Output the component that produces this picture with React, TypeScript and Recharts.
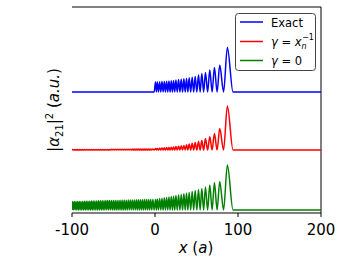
import React from "react";
import { LineChart, Line, XAxis, YAxis, ReferenceLine } from "recharts";

// Peak positions (x in units of a)
const peakX: number[] = [
  -99.2, -97.2, -95.2, -93.2, -91.2, -89.2, -87.1, -85.0, -82.9, -80.8, -78.7,
  -76.6, -74.5, -72.4, -70.2, -68.0, -65.8, -63.6, -61.4, -59.2, -57.0, -54.8,
  -52.5, -50.2, -47.9, -45.6, -43.3, -41.0, -38.7, -36.4, -34.0, -31.6, -29.2,
  -26.8, -24.4, -22.0, -19.6, -17.2, -14.8, -12.4, -10.0, -7.6, -5.2, -2.6,
  0.6, 2.8, 5.6, 8.4, 11.2, 14.0, 16.8, 19.6, 22.4, 25.2, 28.4, 31.6, 34.8,
  38.0, 41.2, 44.8, 48.4, 52.4, 56.4, 60.8, 66.0, 71.6, 78.0, 87.2,
];

// Peak heights (a.u.) for each curve
const exactPeaks: number[] = [
  0, 0, 0, 0, 0, 0, 0, 0, 0, 0, 0, 0, 0, 0, 0, 0, 0, 0, 0, 0, 0, 0,
  0, 0, 0, 0, 0, 0, 0, 0, 0, 0, 0, 0, 0, 0, 0, 0, 0, 0, 0, 0, 0, 0,
  0.5, 0.5, 0.5, 0.52, 0.53, 0.54, 0.55, 0.56, 0.58, 0.6, 0.62, 0.64, 0.66,
  0.68, 0.71, 0.74, 0.78, 0.85, 0.93, 0.98, 1.1, 1.23, 1.35, 2.23,
];
const approxPeaks: number[] = [
  0.02, 0.02, 0.02, 0.02, 0.02, 0.02, 0.02, 0.02, 0.02, 0.02, 0.02,
  0.03, 0.03, 0.03, 0.03, 0.03, 0.03, 0.03, 0.03, 0.03, 0.03, 0.03,
  0.04, 0.04, 0.04, 0.04, 0.04, 0.04, 0.04, 0.04, 0.04, 0.04, 0.04,
  0.05, 0.05, 0.05, 0.05, 0.05, 0.05, 0.05, 0.05, 0.05, 0.05, 0.05,
  0.07, 0.08, 0.09, 0.1, 0.11, 0.12, 0.13, 0.14, 0.15, 0.17, 0.19, 0.21,
  0.23, 0.26, 0.3, 0.34, 0.37, 0.42, 0.47, 0.57, 0.66, 0.82, 1.07, 2.2,
];
const zeroPeaks: number[] = [
  0.42, 0.42, 0.42, 0.43, 0.43, 0.43, 0.43, 0.44, 0.44, 0.44, 0.44,
  0.45, 0.45, 0.45, 0.45, 0.46, 0.46, 0.46, 0.46, 0.47, 0.47, 0.47,
  0.47, 0.48, 0.48, 0.48, 0.48, 0.49, 0.49, 0.49, 0.49, 0.5, 0.5,
  0.5, 0.5, 0.51, 0.51, 0.51, 0.51, 0.52, 0.52, 0.52, 0.52, 0.53,
  0.53, 0.55, 0.57, 0.59, 0.61, 0.63, 0.65, 0.67, 0.69, 0.72, 0.75, 0.78,
  0.81, 0.84, 0.88, 0.92, 0.97, 1.02, 1.08, 1.15, 1.25, 1.37, 1.42, 2.25,
];

// Vertical offsets of the stacked curves
const exactOffset = 5.9;
const approxOffset = 3.0;
const zeroOffset = 0;

const xTicks = [-100, 0, 100, 200];
const xStart = -100;
const xEnd = 200;
const tailTrough = 94;

type Row = { x: number; exact: number; approx: number; zero: number };
const rows: Row[] = [];
rows.push({ x: xStart, exact: exactOffset, approx: approxOffset, zero: zeroOffset });
peakX.forEach((px, i) => {
  if (i > 0) {
    const mid = (peakX[i - 1] + px) / 2;
    rows.push({ x: mid, exact: exactOffset, approx: approxOffset, zero: zeroOffset });
  }
  rows.push({
    x: px,
    exact: exactOffset + exactPeaks[i],
    approx: approxOffset + approxPeaks[i],
    zero: zeroOffset + zeroPeaks[i],
  });
});
rows.push({ x: tailTrough, exact: exactOffset, approx: approxOffset, zero: zeroOffset });
rows.push({ x: xEnd, exact: exactOffset, approx: approxOffset, zero: zeroOffset });

const FONT = "DejaVu Sans";

export default function App() {
  return (
    <div style={{ position: "absolute", left: 0, top: 0, width: 357, height: 268, background: "#fff" }}>
      <LineChart
        width={357}
        height={268}
        data={rows}
        margin={{ top: 7, right: 36, bottom: 0, left: 72 }}
      >
        <XAxis
          dataKey="x"
          type="number"
          domain={[xStart, xEnd]}
          ticks={xTicks}
          tickFormatter={(v: number) => String(v)}
          height={55}
          tickSize={4}
          tickMargin={7}
          axisLine={{ stroke: "#000", strokeWidth: 1 }}
          tickLine={{ stroke: "#000", strokeWidth: 1 }}
          tick={{ fill: "#000", fontSize: 15, fontFamily: FONT }}
          allowDataOverflow
        />
        <YAxis
          type="number"
          domain={[-0.15, 10.15]}
          width={0}
          tick={false}
          tickLine={false}
          axisLine={{ stroke: "#000", strokeWidth: 1 }}
          allowDataOverflow
        />
        <ReferenceLine x={xEnd} stroke="#000" strokeWidth={1} />
        <ReferenceLine y={10.15} stroke="#000" strokeWidth={1} />
        <Line dataKey="zero" type="monotone" stroke="#008000" strokeWidth={1.5} dot={false} isAnimationActive={false} />
        <Line dataKey="approx" type="monotone" stroke="#ff0000" strokeWidth={1.5} dot={false} isAnimationActive={false} />
        <Line dataKey="exact" type="monotone" stroke="#0000ff" strokeWidth={1.5} dot={false} isAnimationActive={false} />
      </LineChart>
      <svg
        width={357}
        height={268}
        style={{ position: "absolute", left: 0, top: 0, pointerEvents: "none" }}
        fontFamily={FONT}
      >
        <text x={196} y={253} textAnchor="middle" fontSize={15} fill="#000">
          <tspan fontStyle="italic">x</tspan> (<tspan fontStyle="italic">a</tspan>)
        </text>
        <text transform="translate(59,110) rotate(-90)" textAnchor="middle" fontSize={15} fill="#000">
          |<tspan fontStyle="italic">α</tspan>
          <tspan fontSize={10} dy={4}>21</tspan>
          <tspan dy={-4}>|</tspan>
          <tspan fontSize={10} dy={-6}>2</tspan>
          <tspan dy={6}> (</tspan>
          <tspan fontStyle="italic">a.u.</tspan>
          <tspan>)</tspan>
        </text>
        <rect x={235.5} y={13.5} width={80} height={57} rx={3} fill="#fff" stroke="#444" strokeWidth={1} />
        <line x1={240} x2={263} y1={22} y2={22} stroke="#0000ff" strokeWidth={1.5} />
        <line x1={240} x2={263} y1={41.5} y2={41.5} stroke="#ff0000" strokeWidth={1.5} />
        <line x1={240} x2={263} y1={60.5} y2={60.5} stroke="#008000" strokeWidth={1.5} />
        <text x={271} y={26.5} fontSize={11.5} fill="#000">Exact</text>
        <text x={271} y={45.5} fontSize={11.5} fill="#000">
          <tspan fontStyle="italic">γ</tspan> = <tspan fontStyle="italic">x</tspan>
          <tspan fontSize={8} dy={3} fontStyle="italic">n</tspan>
          <tspan fontSize={8} dx={-4.5} dy={-9}>−1</tspan>
        </text>
        <text x={271} y={64.5} fontSize={11.5} fill="#000">
          <tspan fontStyle="italic">γ</tspan> = 0
        </text>
      </svg>
    </div>
  );
}
